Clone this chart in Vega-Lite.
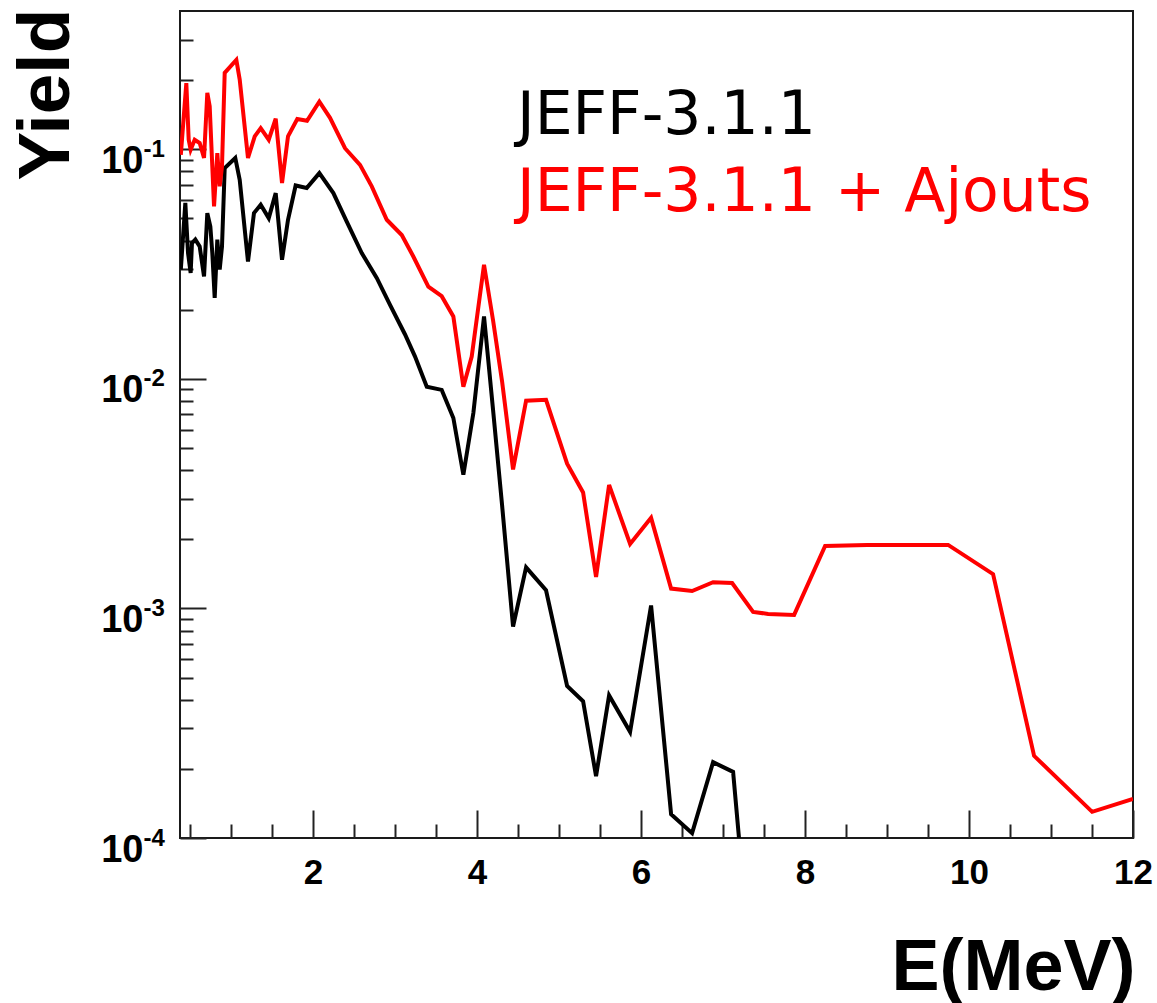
{
  "$schema": "https://vega.github.io/schema/vega-lite/v6.json",
  "width": 953,
  "height": 827,
  "autosize": {"type": "none"},
  "padding": {"left": 180, "top": 11, "right": 24, "bottom": 165},
  "background": "white",
  "config": {
    "view": {"stroke": "#1a1a1a", "strokeWidth": 2},
    "font": "Liberation Sans",
    "axis": {
      "grid": false,
      "domain": false,
      "labelFont": "Liberation Sans",
      "labelFontWeight": "bold",
      "labelColor": "#000000",
      "tickColor": "#222222",
      "tickWidth": 2,
      "titleFont": "Liberation Sans",
      "titleFontWeight": "bold",
      "titleColor": "#000000"
    }
  },
  "data": {
    "values": [
      {"Library": "JEFF-3.1.1", "E": 0.39, "Yield": 0.0299},
      {"Library": "JEFF-3.1.1", "E": 0.445, "Yield": 0.0584},
      {"Library": "JEFF-3.1.1", "E": 0.478, "Yield": 0.0353},
      {"Library": "JEFF-3.1.1", "E": 0.51, "Yield": 0.0289},
      {"Library": "JEFF-3.1.1", "E": 0.526, "Yield": 0.039},
      {"Library": "JEFF-3.1.1", "E": 0.567, "Yield": 0.0404},
      {"Library": "JEFF-3.1.1", "E": 0.62, "Yield": 0.0377},
      {"Library": "JEFF-3.1.1", "E": 0.673, "Yield": 0.0279},
      {"Library": "JEFF-3.1.1", "E": 0.713, "Yield": 0.0527},
      {"Library": "JEFF-3.1.1", "E": 0.75, "Yield": 0.0461},
      {"Library": "JEFF-3.1.1", "E": 0.774, "Yield": 0.0353},
      {"Library": "JEFF-3.1.1", "E": 0.803, "Yield": 0.0225},
      {"Library": "JEFF-3.1.1", "E": 0.835, "Yield": 0.0404},
      {"Library": "JEFF-3.1.1", "E": 0.864, "Yield": 0.0299},
      {"Library": "JEFF-3.1.1", "E": 0.892, "Yield": 0.0377},
      {"Library": "JEFF-3.1.1", "E": 0.925, "Yield": 0.0828},
      {"Library": "JEFF-3.1.1", "E": 1.054, "Yield": 0.0916},
      {"Library": "JEFF-3.1.1", "E": 1.108, "Yield": 0.0736},
      {"Library": "JEFF-3.1.1", "E": 1.209, "Yield": 0.0324},
      {"Library": "JEFF-3.1.1", "E": 1.282, "Yield": 0.0527},
      {"Library": "JEFF-3.1.1", "E": 1.364, "Yield": 0.0573},
      {"Library": "JEFF-3.1.1", "E": 1.462, "Yield": 0.0501},
      {"Library": "JEFF-3.1.1", "E": 1.547, "Yield": 0.0644},
      {"Library": "JEFF-3.1.1", "E": 1.624, "Yield": 0.033},
      {"Library": "JEFF-3.1.1", "E": 1.697, "Yield": 0.0493},
      {"Library": "JEFF-3.1.1", "E": 1.79, "Yield": 0.0695},
      {"Library": "JEFF-3.1.1", "E": 1.925, "Yield": 0.0678},
      {"Library": "JEFF-3.1.1", "E": 2.079, "Yield": 0.0787},
      {"Library": "JEFF-3.1.1", "E": 2.25, "Yield": 0.0644},
      {"Library": "JEFF-3.1.1", "E": 2.413, "Yield": 0.0484},
      {"Library": "JEFF-3.1.1", "E": 2.596, "Yield": 0.0353},
      {"Library": "JEFF-3.1.1", "E": 2.779, "Yield": 0.0275},
      {"Library": "JEFF-3.1.1", "E": 2.941, "Yield": 0.021},
      {"Library": "JEFF-3.1.1", "E": 3.124, "Yield": 0.0156},
      {"Library": "JEFF-3.1.1", "E": 3.246, "Yield": 0.0125},
      {"Library": "JEFF-3.1.1", "E": 3.389, "Yield": 0.00924},
      {"Library": "JEFF-3.1.1", "E": 3.571, "Yield": 0.00895},
      {"Library": "JEFF-3.1.1", "E": 3.713, "Yield": 0.00675},
      {"Library": "JEFF-3.1.1", "E": 3.835, "Yield": 0.00382},
      {"Library": "JEFF-3.1.1", "E": 3.957, "Yield": 0.0071},
      {"Library": "JEFF-3.1.1", "E": 4.087, "Yield": 0.0187},
      {"Library": "JEFF-3.1.1", "E": 4.197, "Yield": 0.00733},
      {"Library": "JEFF-3.1.1", "E": 4.307, "Yield": 0.00282},
      {"Library": "JEFF-3.1.1", "E": 4.441, "Yield": 0.000833},
      {"Library": "JEFF-3.1.1", "E": 4.6, "Yield": 0.00151},
      {"Library": "JEFF-3.1.1", "E": 4.843, "Yield": 0.0012},
      {"Library": "JEFF-3.1.1", "E": 5.1, "Yield": 0.000459},
      {"Library": "JEFF-3.1.1", "E": 5.295, "Yield": 0.000394},
      {"Library": "JEFF-3.1.1", "E": 5.453, "Yield": 0.000186},
      {"Library": "JEFF-3.1.1", "E": 5.612, "Yield": 0.000418},
      {"Library": "JEFF-3.1.1", "E": 5.868, "Yield": 0.00029},
      {"Library": "JEFF-3.1.1", "E": 6.124, "Yield": 0.00103},
      {"Library": "JEFF-3.1.1", "E": 6.368, "Yield": 0.000127},
      {"Library": "JEFF-3.1.1", "E": 6.624, "Yield": 0.000105},
      {"Library": "JEFF-3.1.1", "E": 6.88, "Yield": 0.000214},
      {"Library": "JEFF-3.1.1", "E": 7.124, "Yield": 0.000194},
      {"Library": "JEFF-3.1.1", "E": 7.37, "Yield": 0.00002},

      {"Library": "JEFF-3.1.1 + Ajouts", "E": 0.39, "Yield": 0.0946},
      {"Library": "JEFF-3.1.1 + Ajouts", "E": 0.457, "Yield": 0.194},
      {"Library": "JEFF-3.1.1 + Ajouts", "E": 0.486, "Yield": 0.11},
      {"Library": "JEFF-3.1.1 + Ajouts", "E": 0.51, "Yield": 0.0995},
      {"Library": "JEFF-3.1.1 + Ajouts", "E": 0.559, "Yield": 0.11},
      {"Library": "JEFF-3.1.1 + Ajouts", "E": 0.62, "Yield": 0.1064},
      {"Library": "JEFF-3.1.1 + Ajouts", "E": 0.673, "Yield": 0.0916},
      {"Library": "JEFF-3.1.1 + Ajouts", "E": 0.713, "Yield": 0.176},
      {"Library": "JEFF-3.1.1 + Ajouts", "E": 0.742, "Yield": 0.154},
      {"Library": "JEFF-3.1.1 + Ajouts", "E": 0.795, "Yield": 0.0564},
      {"Library": "JEFF-3.1.1 + Ajouts", "E": 0.835, "Yield": 0.0961},
      {"Library": "JEFF-3.1.1 + Ajouts", "E": 0.864, "Yield": 0.0689},
      {"Library": "JEFF-3.1.1 + Ajouts", "E": 0.892, "Yield": 0.0841},
      {"Library": "JEFF-3.1.1 + Ajouts", "E": 0.925, "Yield": 0.215},
      {"Library": "JEFF-3.1.1 + Ajouts", "E": 1.067, "Yield": 0.245},
      {"Library": "JEFF-3.1.1 + Ajouts", "E": 1.108, "Yield": 0.201},
      {"Library": "JEFF-3.1.1 + Ajouts", "E": 1.209, "Yield": 0.0916},
      {"Library": "JEFF-3.1.1 + Ajouts", "E": 1.291, "Yield": 0.1138},
      {"Library": "JEFF-3.1.1 + Ajouts", "E": 1.364, "Yield": 0.1236},
      {"Library": "JEFF-3.1.1 + Ajouts", "E": 1.462, "Yield": 0.11},
      {"Library": "JEFF-3.1.1 + Ajouts", "E": 1.547, "Yield": 0.1358},
      {"Library": "JEFF-3.1.1 + Ajouts", "E": 1.624, "Yield": 0.0713},
      {"Library": "JEFF-3.1.1 + Ajouts", "E": 1.697, "Yield": 0.1138},
      {"Library": "JEFF-3.1.1 + Ajouts", "E": 1.81, "Yield": 0.1355},
      {"Library": "JEFF-3.1.1 + Ajouts", "E": 1.929, "Yield": 0.133},
      {"Library": "JEFF-3.1.1 + Ajouts", "E": 2.079, "Yield": 0.161},
      {"Library": "JEFF-3.1.1 + Ajouts", "E": 2.209, "Yield": 0.137},
      {"Library": "JEFF-3.1.1 + Ajouts", "E": 2.392, "Yield": 0.101},
      {"Library": "JEFF-3.1.1 + Ajouts", "E": 2.575, "Yield": 0.0855},
      {"Library": "JEFF-3.1.1 + Ajouts", "E": 2.718, "Yield": 0.0689},
      {"Library": "JEFF-3.1.1 + Ajouts", "E": 2.901, "Yield": 0.0493},
      {"Library": "JEFF-3.1.1 + Ajouts", "E": 3.084, "Yield": 0.0423},
      {"Library": "JEFF-3.1.1 + Ajouts", "E": 3.225, "Yield": 0.0341},
      {"Library": "JEFF-3.1.1 + Ajouts", "E": 3.408, "Yield": 0.0252},
      {"Library": "JEFF-3.1.1 + Ajouts", "E": 3.571, "Yield": 0.0229},
      {"Library": "JEFF-3.1.1 + Ajouts", "E": 3.713, "Yield": 0.0187},
      {"Library": "JEFF-3.1.1 + Ajouts", "E": 3.835, "Yield": 0.00924},
      {"Library": "JEFF-3.1.1 + Ajouts", "E": 3.937, "Yield": 0.0125},
      {"Library": "JEFF-3.1.1 + Ajouts", "E": 4.087, "Yield": 0.0314},
      {"Library": "JEFF-3.1.1 + Ajouts", "E": 4.197, "Yield": 0.018},
      {"Library": "JEFF-3.1.1 + Ajouts", "E": 4.307, "Yield": 0.00975},
      {"Library": "JEFF-3.1.1 + Ajouts", "E": 4.441, "Yield": 0.00403},
      {"Library": "JEFF-3.1.1 + Ajouts", "E": 4.6, "Yield": 0.00803},
      {"Library": "JEFF-3.1.1 + Ajouts", "E": 4.843, "Yield": 0.0081},
      {"Library": "JEFF-3.1.1 + Ajouts", "E": 5.1, "Yield": 0.00427},
      {"Library": "JEFF-3.1.1 + Ajouts", "E": 5.295, "Yield": 0.0032},
      {"Library": "JEFF-3.1.1 + Ajouts", "E": 5.453, "Yield": 0.00137},
      {"Library": "JEFF-3.1.1 + Ajouts", "E": 5.612, "Yield": 0.00345},
      {"Library": "JEFF-3.1.1 + Ajouts", "E": 5.868, "Yield": 0.00191},
      {"Library": "JEFF-3.1.1 + Ajouts", "E": 6.124, "Yield": 0.00248},
      {"Library": "JEFF-3.1.1 + Ajouts", "E": 6.368, "Yield": 0.00122},
      {"Library": "JEFF-3.1.1 + Ajouts", "E": 6.624, "Yield": 0.00119},
      {"Library": "JEFF-3.1.1 + Ajouts", "E": 6.88, "Yield": 0.0013},
      {"Library": "JEFF-3.1.1 + Ajouts", "E": 7.112, "Yield": 0.00129},
      {"Library": "JEFF-3.1.1 + Ajouts", "E": 7.368, "Yield": 0.000966},
      {"Library": "JEFF-3.1.1 + Ajouts", "E": 7.551, "Yield": 0.000946},
      {"Library": "JEFF-3.1.1 + Ajouts", "E": 7.868, "Yield": 0.000937},
      {"Library": "JEFF-3.1.1 + Ajouts", "E": 8.246, "Yield": 0.00187},
      {"Library": "JEFF-3.1.1 + Ajouts", "E": 8.758, "Yield": 0.00189},
      {"Library": "JEFF-3.1.1 + Ajouts", "E": 9.746, "Yield": 0.00189},
      {"Library": "JEFF-3.1.1 + Ajouts", "E": 10.294, "Yield": 0.00141},
      {"Library": "JEFF-3.1.1 + Ajouts", "E": 10.794, "Yield": 0.000228},
      {"Library": "JEFF-3.1.1 + Ajouts", "E": 11.502, "Yield": 0.00013},
      {"Library": "JEFF-3.1.1 + Ajouts", "E": 12.0, "Yield": 0.000148}
    ]
  },
  "layer": [
    {
      "mark": {"type": "line", "strokeWidth": 4, "strokeJoin": "miter", "clip": true},
      "encoding": {
        "x": {
          "field": "E", "type": "quantitative",
          "scale": {"domain": [0.38, 12], "nice": false, "zero": false},
          "axis": {"orient": "bottom", "values": [2, 4, 6, 8, 10, 12], "labels": false, "tickSize": 28, "offset": -28, "title": null}
        },
        "y": {
          "field": "Yield", "type": "quantitative",
          "scale": {"type": "log", "domain": [0.0001, 0.4], "nice": false},
          "axis": {"orient": "left", "values": [0.0001, 0.001, 0.01, 0.1], "labels": false, "tickSize": 26, "offset": -26, "title": null}
        },
        "color": {
          "field": "Library", "type": "nominal",
          "scale": {"domain": ["JEFF-3.1.1", "JEFF-3.1.1 + Ajouts"], "range": ["#000000", "#ff0000"]},
          "legend": {
            "orient": "none", "legendX": 277, "legendY": 75, "title": null,
            "symbolSize": 0, "symbolStrokeWidth": 0, "symbolOpacity": 0,
            "labelFont": "DejaVu Sans", "labelFontSize": 60, "labelLimit": 1000,
            "labelOffset": 0, "rowPadding": 17, "padding": 0,
            "encode": {"labels": {"update": {"fill": {"signal": "datum.value === 'JEFF-3.1.1' ? '#000000' : '#ff0000'"}}}}
          }
        }
      }
    },
    {
      "mark": {"type": "point", "opacity": 0},
      "encoding": {
        "x": {
          "field": "E", "type": "quantitative",
          "axis": {"orient": "bottom", "values": [0.5, 1, 1.5, 2.5, 3, 3.5, 4.5, 5, 5.5, 6.5, 7, 7.5, 8.5, 9, 9.5, 10.5, 11, 11.5], "labels": false, "tickSize": 14, "offset": -14, "title": null}
        },
        "y": {
          "field": "Yield", "type": "quantitative",
          "axis": {"orient": "left", "values": [0.0002, 0.0003, 0.0004, 0.0005, 0.0006, 0.0007, 0.0008, 0.0009, 0.002, 0.003, 0.004, 0.005, 0.006, 0.007, 0.008, 0.009, 0.02, 0.03, 0.04, 0.05, 0.06, 0.07, 0.08, 0.09, 0.2, 0.3], "labels": false, "tickSize": 13, "offset": -13, "title": null}
        }
      }
    },
    {
      "mark": {"type": "point", "opacity": 0},
      "encoding": {
        "x": {
          "field": "E", "type": "quantitative",
          "axis": {
            "orient": "bottom", "values": [2, 4, 6, 8, 10, 12], "ticks": false,
            "labelFontSize": 35, "labelPadding": 17, "labelBaseline": "top", "labelFlush": false, "labelOverlap": false,
            "title": "E(MeV)", "titleFontSize": 72, "titleX": 955, "titleY": 151, "titleAlign": "right", "titleBaseline": "alphabetic", "titleAnchor": null
          }
        },
        "y": {
          "field": "Yield", "type": "quantitative",
          "axis": {
            "orient": "left", "values": [0.0001, 0.001, 0.01, 0.1], "ticks": false,
            "labelExpr": "'10'", "labelFontSize": 38, "labelAlign": "right", "labelBaseline": "middle",
            "labelPadding": 37, "labelOffset": 12, "labelOverlap": false, "labelFlush": false,
            "title": "Yield", "titleFontSize": 73, "titleAngle": -90, "titleX": -112, "titleY": 169, "titleAlign": "left", "titleBaseline": "alphabetic"
          }
        }
      }
    },
    {
      "mark": {"type": "point", "opacity": 0},
      "encoding": {
        "x": {"field": "E", "type": "quantitative", "axis": null},
        "y": {
          "field": "Yield", "type": "quantitative",
          "axis": {
            "orient": "left", "values": [0.0001, 0.001, 0.01, 0.1], "ticks": false,
            "labelExpr": "'-' + format(-round(log(datum.value) / LN10), 'd')", "labelFontSize": 24, "labelAlign": "left", "labelBaseline": "middle",
            "labelPadding": 37, "labelOffset": 0, "labelOverlap": false, "labelFlush": false, "title": null
          }
        }
      }
    }
  ],
  "resolve": {"axis": {"x": "independent", "y": "independent"}}
}
